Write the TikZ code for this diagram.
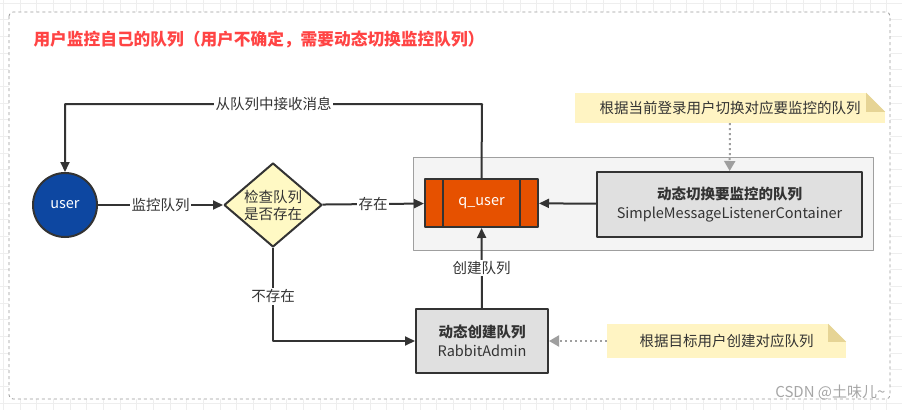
\documentclass[tikz,border=0pt]{standalone}
\usepackage{fontspec}
\setmainfont{Noto Sans CJK SC}
\usetikzlibrary{arrows.meta,shapes.geometric}
\definecolor{ink}{HTML}{333333}
\definecolor{gridc}{HTML}{EEEEEE}
\definecolor{titlered}{HTML}{FF4444}
\definecolor{userblue}{HTML}{0D47A1}
\definecolor{qorange}{HTML}{E65100}
\definecolor{checkyellow}{HTML}{FFF9C4}
\definecolor{boxgray}{HTML}{E0E0E0}
\definecolor{panelgray}{HTML}{F4F4F4}
\definecolor{notefill}{HTML}{FFF4C3}
\definecolor{notefold}{HTML}{E6D495}
\tikzset{
  txt/.style={font=\fontsize{14.5}{19}\selectfont,text=ink},
  flow/.style={draw=ink,line width=2pt,-{Triangle[length=10pt,width=9pt]}},
  hintline/.style={draw=gray!75,line width=2pt,dash pattern=on 2pt off 3pt,-{Triangle[length=10pt,width=11pt]},gray!75},
  lbl/.style={txt,fill=white,inner sep=1.5pt},
  box/.style={txt,draw=ink,line width=2pt,fill=boxgray,align=center,inner sep=0pt},
  note/.style={txt,fill=notefill,inner sep=0pt}
}
\begin{document}
\begin{tikzpicture}[x=1pt,y=-1pt,line join=bevel]
\useasboundingbox (0,0) rectangle (902,410);
% background grid
\foreach \k in {0,...,53}
  \draw[gridc,line width=0.7pt] (3.3+16.67*\k,0) -- (3.3+16.67*\k,410);
\foreach \k in {0,...,24}
  \draw[gridc,line width=0.7pt] (0,3+16.67*\k) -- (902,3+16.67*\k);
\draw[gray!80,dashed,fill=white,rounded corners=4pt,line width=0.8pt] (9,12) rectangle (890,399);
\node[anchor=west,text=titlered,font=\fontsize{16.7}{20}\selectfont\bfseries] (title) at (30,40)
  {用户监控自己的队列（用户不确定，需要动态切换监控队列）};
\draw[draw=gray!75,fill=panelgray,line width=1pt] (413,157) rectangle (873,250);%panel
% nodes
\node[txt,circle,draw=ink,line width=2pt,fill=userblue,text=white,minimum size=64pt,inner sep=0pt] (user) at (65,205) {user};
\node[txt,diamond,draw=ink,line width=2pt,fill=checkyellow,aspect=1.167,minimum width=98pt,minimum height=84pt,inner sep=0pt,align=center,font=\fontsize{14.5}{17}\selectfont] (check) at (273,205) {检查队列\\是否存在};
\node[txt,draw=ink,line width=2pt,fill=qorange,text=white,minimum width=113pt,minimum height=48pt] (quser) at (481.5,203) {q\_user};
\draw[ink,line width=2pt] ([xshift=19pt]quser.north west) -- ([xshift=19pt]quser.south west)
  ([xshift=-19pt]quser.north east) -- ([xshift=-19pt]quser.south east);
\node[box,minimum width=265pt,minimum height=65pt] (switch) at (729.5,204.5) {{\bfseries 动态切换要监控的队列}\\SimpleMessageListenerContainer};
\node[box,minimum width=132pt,minimum height=64pt] (admin) at (482,341) {{\bfseries 动态创建队列}\\RabbitAdmin};
\node[note,minimum width=310pt,minimum height=30pt] (hintswitch) at (730,108) {根据当前登录用户切换对应要监控的队列};
\node[note,minimum width=239pt,minimum height=34pt] (hintadmin) at (726.5,341) {根据目标用户创建对应队列};
\foreach \n/\f in {hintswitch/19,hintadmin/18}{
  \fill[white] ([xshift=-\f pt]\n.north east) -- (\n.north east) -- ([yshift=-\f pt]\n.north east) -- cycle;
  \fill[notefold] ([xshift=-\f pt]\n.north east) -- ([yshift=-\f pt]\n.north east) -- ([xshift=-\f pt,yshift=-\f pt]\n.north east) -- cycle;
}
\coordinate (topturn) at (482,104);
% connectors
\draw[flow] (user) -- node[lbl]{监控队列} (check);
\draw[flow] (check) -- node[lbl]{存在} (quser);
\draw[flow] (switch) -- (quser);
\draw[flow] (quser.north) -- (topturn) -- node[lbl]{从队列中接收消息} (topturn -| user) -- (user);
\draw[flow] (check.south) |- node[lbl,pos=0.26]{不存在} (admin.west);
\draw[flow] (admin) -- node[lbl]{创建队列} (quser);
\draw[hintline] (hintswitch) -- (switch);
\draw[hintline] (hintadmin) -- (admin);
\node[anchor=east,text=gray!70,font=\fontsize{15}{18}\selectfont] (mark) at (889,393) {CSDN @土味儿\textasciitilde};
\end{tikzpicture}
\end{document}
